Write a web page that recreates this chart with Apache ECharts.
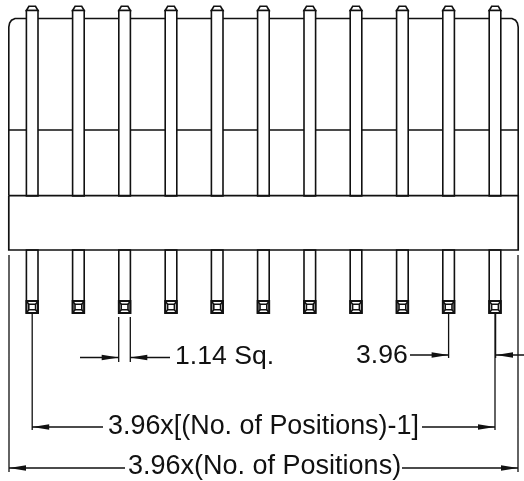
<!DOCTYPE html>
<html><head><meta charset="utf-8">
<style>html,body{margin:0;padding:0;background:#fff}#c{width:524px;height:481px}</style>
<script src="https://cdn.jsdelivr.net/npm/echarts@6/dist/echarts.min.js"></script>
</head><body><div id="c"></div>
<script>
// Drawing units
const pinCenters = [32.2, 78.4, 124.6, 171, 217.2, 263.4, 309.8, 356, 402.4, 448.6, 495];
const pinHalfWidth = 5.8;
const domeProfile = [[-5.8,10.5],[-3.3,6.3],[3.3,6.3],[5.8,10.5]];
const bodyOutline = [[8.8,195.7],[8.8,27],[9.6,23],[11.5,20.2],[15,18.5],[512,18.5],[515.5,20.2],[517.4,23],[518.2,27],[518.2,195.7]];
const midLine = [[8.8,130],[518.2,130]];
const bandOutline = [[8.8,195.7],[518.2,195.7],[518.2,250],[8.8,250],[8.8,195.7]];
const dimensionLines = [
  [[9,255],[9,472]],
  [[518,255],[518,472]],
  [[32.2,313],[32.2,430]],
  [[495,313],[495,430]],
  [[495.6,313],[495.6,358]],
  [[448.6,313],[448.6,358]],
  [[118.7,317],[118.7,362]],
  [[130.3,317],[130.3,362]],
  [[80,357.5],[118.7,357.5]],
  [[130.3,357.5],[170,357.5]],
  [[410,355],[448.6,355]],
  [[496,355],[524,355]],
  [[32.2,427],[103,427]],
  [[422,427],[495,427]],
  [[9,468],[125,468]],
  [[402,468],[518,468]]
];
// arrow tip x, y, direction
const arrows = [
  [118.7,357.5,1],[130.3,357.5,-1],[448.6,355,1],[496,355,-1],
  [32.2,427,-1],[495,427,1],[9,468,-1],[518,468,1]
];
// text, left x, middle y, font size
const labels = [
  ['1.14 Sq.',175,356.6,26.6],
  ['3.96',356,356,26.6],
  ['3.96x[(No. of Positions)-1]',108,426.6,26.9],
  ['3.96x(No. of Positions)',128,467,27]
];

const ink = '#111111';
function gapped(paths){
  const out = [];
  paths.forEach((p,i)=>{ if(i) out.push([null,null]); p.forEach(q=>out.push(q)); });
  return out;
}
const lineSeries = (name,paths,w,z)=>({
  type:'line', name, data:gapped(paths), showSymbol:false, symbol:'none', silent:true,
  connectNulls:false, animation:false, z, clip:false,
  lineStyle:{color:ink,width:w,cap:'butt',join:'miter'}
});

const chart = echarts.init(document.getElementById('c'),null,{renderer:'canvas'});
chart.setOption({
  animation:false,
  backgroundColor:'#fff',
  grid:{left:0,right:0,top:0,bottom:0},
  xAxis:{type:'value',min:0,max:524,show:false},
  yAxis:{type:'value',min:0,max:481,inverse:true,show:false},
  series:[
    lineSeries('body',[bodyOutline,midLine],1.6,1),
    lineSeries('band',[bandOutline],1.7,3),
    lineSeries('dimensions',dimensionLines,1.3,4),
    {
      type:'custom', name:'pins', z:2, silent:true, animation:false, clip:false,
      data:pinCenters.map(c=>[c]),
      encode:{x:0},
      renderItem(params,api){
        const c = api.value(0);
        const P = (x,y)=>api.coord([x,y]);
        const st = {fill:'#fff',stroke:ink,lineWidth:1.6};
        const ln = {fill:'none',stroke:ink,lineWidth:1.5};
        const hw = pinHalfWidth;
        const rect = (x1,y1,x2,y2,s)=>({type:'polygon',shape:{points:[P(x1,y1),P(x2,y1),P(x2,y2),P(x1,y2)]},style:s||st});
        const line = (a,b,s)=>({type:'polyline',shape:{points:[P(a[0],a[1]),P(b[0],b[1])]},style:s||ln});
        return {type:'group',children:[
          {type:'polygon',shape:{points:domeProfile.map(o=>P(c+o[0],o[1]))},style:st},
          rect(c-hw,10.5,c+hw,196),
          rect(c-hw,250,c+hw,313),
          line([c-hw,301],[c+hw,301]),
          rect(c-3.4,304.2,c+3.4,309.8),
          line([c-hw,301],[c-3.4,304.2]),line([c+hw,301],[c+3.4,304.2]),
          line([c-hw,313],[c-3.4,309.8]),line([c+hw,313],[c+3.4,309.8]),
          rect(c-hw,301,c+hw,313,{fill:'none',stroke:ink,lineWidth:1.9})
        ]};
      }
    },
    {
      type:'custom', name:'arrows', z:5, silent:true, animation:false, clip:false,
      data:arrows, encode:{x:0,y:1},
      renderItem(params,api){
        const x=api.value(0), y=api.value(1), d=api.value(2);
        const pts=[api.coord([x,y]),api.coord([x-d*17,y-2.7]),api.coord([x-d*17,y+2.7])];
        return {type:'polygon',shape:{points:pts},style:{fill:ink}};
      }
    },
    {
      type:'custom', name:'labels', z:6, silent:true, animation:false, clip:false,
      data:labels.map(l=>[l[1],l[2]]), encode:{x:0,y:1},
      renderItem(params,api){
        const l=labels[params.dataIndex], p=api.coord([l[1],l[2]]);
        return {type:'text',x:p[0],y:p[1],style:{text:l[0],fill:'#111111',
          font:l[3]+'px "Liberation Sans", Arial, sans-serif',textAlign:'left',textVerticalAlign:'middle'}};
      }
    }
  ]
});
</script></body></html>
